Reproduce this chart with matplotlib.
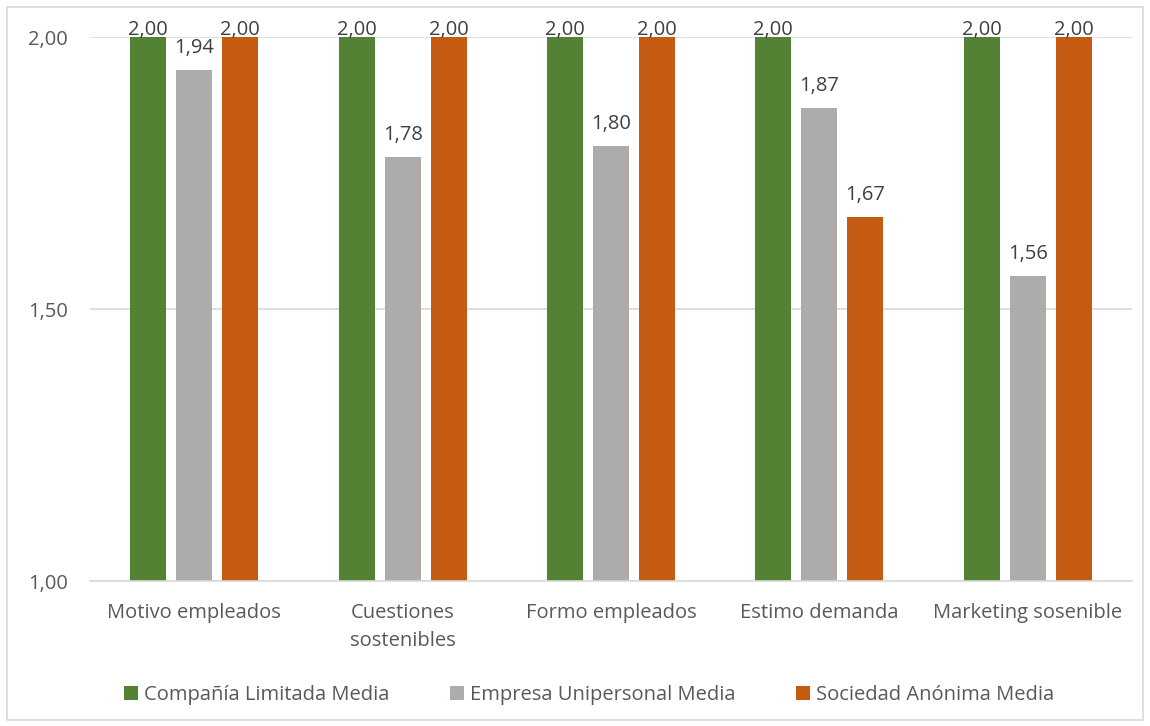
import matplotlib.pyplot as plt
import numpy as np
from matplotlib.patches import Rectangle

categories = ['Motivo empleados', 'Cuestiones\nsostenibles', 'Formo empleados',
              'Estimo demanda', 'Marketing sosenible']
series = ['Compañía Limitada Media', 'Empresa Unipersonal Media', 'Sociedad Anónima Media']
limitada = [2.00, 2.00, 2.00, 2.00, 2.00]
unipersonal = [1.94, 1.78, 1.80, 1.87, 1.56]
anonima = [2.00, 2.00, 2.00, 1.67, 2.00]
colors = ['#548235', '#AEABAB', '#C55A11']
yticks = [1.00, 1.50, 2.00]

text_color = '#595959'
fs = 14.5
plt.rcParams['font.family'] = ['Open Sans', 'DejaVu Sans']

fig = plt.figure(figsize=(11.5, 7.26), dpi=100)
ax = fig.add_axes([0.0783, 0.1997, 0.906, 0.7493])

# outer chart border
fig.patches.append(Rectangle((0.006, 0.008), 0.988, 0.982, transform=fig.transFigure,
                             fill=False, edgecolor='#D9D9D9', linewidth=1.2))

x = np.arange(len(categories))
width = 0.173
offset = 0.221
for i, (vals, name, col) in enumerate(zip([limitada, unipersonal, anonima], series, colors)):
    pos = x + (i - 1) * offset
    ax.bar(pos, [v - 1 for v in vals], width, bottom=1, color=col, label=name, zorder=3)
    for xp, v in zip(pos, vals):
        ax.text(xp, min(v + 0.022, 1.995), f'{v:.2f}'.replace('.', ','), ha='center',
                va='bottom', fontsize=fs, color='#404040', zorder=4, clip_on=False)

ax.set_xlim(-0.5, len(categories) - 0.5)
ax.set_ylim(1.0, 2.0)
ax.set_yticks(yticks)
ax.set_yticklabels([f'{t:.2f}'.replace('.', ',') for t in yticks], fontsize=fs, color=text_color)
ax.set_xticks(x)
ax.set_xticklabels(categories, fontsize=fs, color=text_color, linespacing=1.5, va='top')
ax.tick_params(axis='both', length=0)
ax.tick_params(axis='y', pad=16)
ax.tick_params(axis='x', pad=16)
ax.yaxis.grid(True, color='#D9D9D9', linewidth=1.2, zorder=0)
ax.set_axisbelow(True)
for s in ['top', 'right', 'left']:
    ax.spines[s].set_visible(False)
ax.spines['bottom'].set_color('#D9D9D9')
ax.spines['bottom'].set_linewidth(1.2)
ax.spines['bottom'].set_zorder(5)

leg = fig.legend(loc='center', bbox_to_anchor=(0.512, 0.043), ncol=3, frameon=False,
                 fontsize=fs, handlelength=0.7, handleheight=0.7, handletextpad=0.3,
                 columnspacing=3.0)
for t in leg.get_texts():
    t.set_color(text_color)

fig.savefig('out.png', dpi=100)
